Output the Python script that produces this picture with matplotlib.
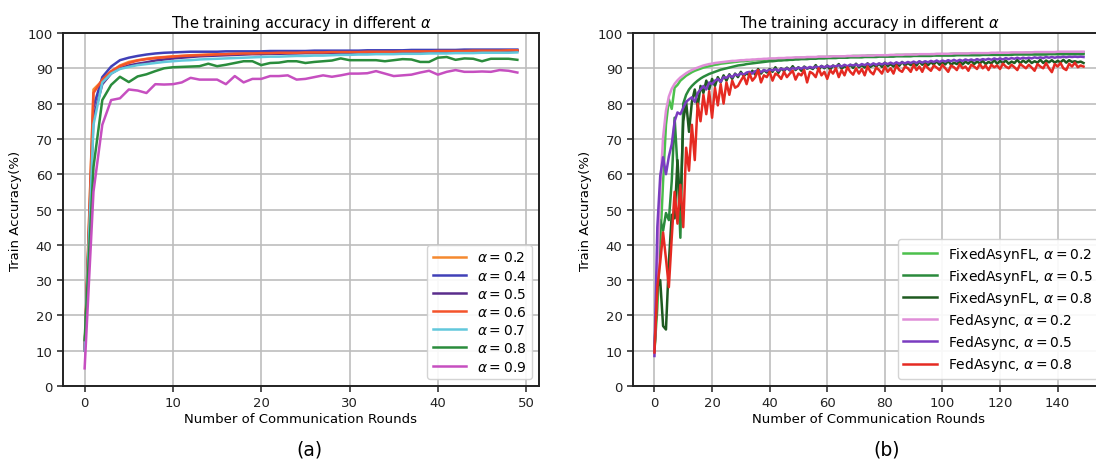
import numpy as np
import matplotlib
matplotlib.use('Agg')
import matplotlib.pyplot as plt

plt.rcParams['font.family'] = 'DejaVu Sans'
plt.rcParams['font.size'] = 9.5

# ---- panel (a): 50 rounds, one curve per alpha ----
rounds_a = np.arange(50)
alpha_labels_a = ['0.2', '0.4', '0.5', '0.6', '0.7', '0.8', '0.9']

acc_a02 = [10.0, 84.0, 86.5, 89.0, 90.8, 91.8, 92.3, 92.7, 93.0, 93.2,
           93.4, 93.5, 93.7, 93.8, 93.9, 94.0, 94.0, 94.1, 94.1, 94.2,
           94.2, 94.3, 94.3, 94.3, 94.4, 94.4, 94.4, 94.5, 94.5, 94.5,
           94.5, 94.6, 94.6, 94.6, 94.6, 94.7, 94.7, 94.7, 94.7, 94.8,
           94.8, 94.8, 94.8, 94.9, 94.9, 94.9, 94.9, 95.0, 95.0, 95.0]
acc_a04 = [10.0, 79.0, 87.5, 90.5, 92.3, 93.0, 93.5, 93.9, 94.2, 94.4,
           94.5, 94.6, 94.7, 94.7, 94.7, 94.7, 94.8, 94.8, 94.8, 94.8,
           94.8, 94.9, 94.9, 94.9, 94.9, 94.9, 95.0, 95.0, 95.0, 95.0,
           95.0, 95.0, 95.1, 95.1, 95.1, 95.1, 95.1, 95.2, 95.2, 95.2,
           95.2, 95.2, 95.2, 95.3, 95.3, 95.3, 95.3, 95.3, 95.3, 95.3]
acc_a05 = [10.0, 76.0, 85.5, 88.5, 90.0, 90.8, 91.3, 91.7, 92.2, 92.5,
           92.8, 93.0, 93.2, 93.4, 93.5, 93.6, 93.7, 93.8, 93.9, 94.0,
           94.0, 94.1, 94.1, 94.2, 94.2, 94.3, 94.3, 94.3, 94.4, 94.4,
           94.4, 94.5, 94.5, 94.5, 94.5, 94.6, 94.6, 94.6, 94.6, 94.7,
           94.7, 94.7, 94.7, 94.7, 94.8, 94.8, 94.8, 94.8, 94.8, 94.9]
acc_a06 = [10.0, 83.0, 86.8, 89.2, 90.6, 91.5, 92.2, 92.6, 92.9, 93.1,
           93.3, 93.5, 93.6, 93.7, 93.8, 93.9, 94.0, 94.1, 94.2, 94.2,
           94.3, 94.3, 94.4, 94.4, 94.4, 94.5, 94.5, 94.5, 94.6, 94.6,
           94.6, 94.6, 94.7, 94.7, 94.7, 94.7, 94.8, 94.8, 94.8, 94.8,
           94.9, 94.9, 94.9, 94.9, 95.0, 95.0, 95.0, 95.0, 95.1, 95.1]
acc_a07 = [10.0, 74.0, 86.0, 88.5, 89.8, 90.4, 90.9, 91.2, 91.5, 91.8,
           92.0, 92.2, 92.3, 92.5, 92.6, 92.7, 92.8, 92.9, 93.0, 93.1,
           93.2, 93.3, 93.3, 93.4, 93.5, 93.5, 93.6, 93.6, 93.7, 93.8,
           93.8, 93.9, 93.9, 94.0, 94.0, 94.0, 94.1, 94.1, 94.1, 94.2,
           94.2, 94.2, 94.3, 94.3, 94.3, 94.4, 94.4, 94.4, 94.4, 94.5]
acc_a08 = [13.0, 62.0, 81.0, 85.3, 87.6, 86.1, 87.7, 88.3, 89.2, 90.0,
           90.3, 90.4, 90.5, 90.6, 91.3, 90.6, 91.0, 91.5, 92.0, 92.0,
           90.9, 91.5, 91.6, 92.0, 92.0, 91.5, 91.8, 92.0, 92.2, 92.8,
           92.3, 92.3, 92.3, 92.3, 92.0, 92.3, 92.6, 92.5, 91.8, 91.8,
           93.0, 93.2, 92.4, 92.8, 92.7, 92.0, 92.7, 92.7, 92.7, 92.4]
acc_a09 = [5.0, 55.0, 74.0, 81.0, 81.5, 84.0, 83.7, 83.0, 85.5, 85.4,
           85.5, 86.0, 87.3, 86.8, 86.8, 86.8, 85.5, 87.8, 86.0, 87.0,
           87.0, 87.8, 87.8, 88.0, 86.8, 87.0, 87.5, 88.0, 87.6, 88.0,
           88.5, 88.5, 88.6, 89.2, 88.5, 87.8, 88.0, 88.2, 88.8, 89.3,
           88.2, 89.0, 89.5, 89.0, 89.0, 89.1, 89.0, 89.5, 89.3, 88.8]

# ---- panel (b): 150 rounds, FixedAsynFL vs FedAsync ----
rounds_b = np.arange(150)

fixed_02 = [10.0, 22.0, 40.0, 58.0, 74.0, 81.2, 78.5, 84.5, 85.3, 86.5,
            87.2, 87.9, 88.4, 88.9, 89.3, 89.6, 89.9, 90.2, 90.4, 90.6,
            90.8, 91.0, 91.1, 91.3, 91.4, 91.5, 91.6, 91.7, 91.8, 91.9,
            92.0, 92.0, 92.1, 92.2, 92.2, 92.3, 92.3, 92.4, 92.4, 92.5,
            92.5, 92.6, 92.6, 92.7, 92.7, 92.7, 92.8, 92.8, 92.9, 92.9,
            92.9, 93.0, 93.0, 93.0, 93.1, 93.1, 93.1, 93.2, 93.2, 93.2,
            93.2, 93.3, 93.3, 93.3, 93.3, 93.4, 93.4, 93.4, 93.4, 93.5,
            93.5, 93.5, 93.5, 93.5, 93.6, 93.6, 93.6, 93.6, 93.6, 93.7,
            93.7, 93.7, 93.7, 93.7, 93.8, 93.8, 93.8, 93.8, 93.8, 93.8,
            93.9, 93.9, 93.9, 93.9, 93.9, 93.9, 94.0, 94.0, 94.0, 94.0,
            94.0, 94.0, 94.0, 94.1, 94.1, 94.1, 94.1, 94.1, 94.1, 94.1,
            94.1, 94.2, 94.2, 94.2, 94.2, 94.2, 94.2, 94.2, 94.2, 94.3,
            94.3, 94.3, 94.3, 94.3, 94.3, 94.3, 94.3, 94.3, 94.3, 94.4,
            94.4, 94.4, 94.4, 94.4, 94.4, 94.4, 94.4, 94.4, 94.4, 94.4,
            94.4, 94.5, 94.5, 94.5, 94.5, 94.5, 94.5, 94.5, 94.5, 94.5]
fixed_05 = [10.0, 30.0, 47.0, 44.0, 49.0, 47.0, 58.0, 76.0, 62.0, 42.0,
            80.0, 82.5, 84.0, 85.0, 85.8, 86.5, 87.1, 87.6, 88.0, 88.4,
            88.7, 89.0, 89.3, 89.6, 89.8, 90.0, 90.2, 90.4, 90.6, 90.8,
            90.9, 91.0, 91.2, 91.3, 91.4, 91.5, 91.6, 91.7, 91.8, 91.9,
            92.0, 92.0, 92.1, 92.2, 92.2, 92.3, 92.3, 92.4, 92.4, 92.5,
            92.5, 92.6, 92.6, 92.6, 92.7, 92.7, 92.7, 92.8, 92.8, 92.8,
            92.9, 92.9, 92.9, 92.9, 93.0, 93.0, 93.0, 93.0, 93.1, 93.1,
            93.1, 93.1, 93.1, 93.2, 93.2, 93.2, 93.2, 93.2, 93.3, 93.3,
            93.3, 93.3, 93.3, 93.3, 93.4, 93.4, 93.4, 93.4, 93.4, 93.4,
            93.5, 93.5, 93.5, 93.5, 93.5, 93.5, 93.5, 93.6, 93.6, 93.6,
            93.6, 93.6, 93.6, 93.6, 93.6, 93.7, 93.7, 93.7, 93.7, 93.7,
            93.7, 93.7, 93.7, 93.7, 93.8, 93.8, 93.8, 93.8, 93.8, 93.8,
            93.8, 93.8, 93.8, 93.8, 93.8, 93.9, 93.9, 93.9, 93.9, 93.9,
            93.9, 93.9, 93.9, 93.9, 93.9, 93.9, 93.9, 94.0, 94.0, 94.0,
            94.0, 94.0, 94.0, 94.0, 94.0, 94.0, 94.0, 94.0, 94.0, 94.0]
fixed_08 = [10.0, 28.0, 30.0, 17.0, 16.0, 35.0, 48.5, 47.5, 64.0, 50.0,
            75.0, 80.5, 72.0, 80.5, 84.0, 79.0, 85.0, 83.0, 86.5, 84.0,
            87.0, 85.0, 87.5, 86.0, 88.0, 86.5, 88.3, 87.0, 88.5, 87.5,
            89.0, 87.8, 88.6, 88.0, 89.3, 88.2, 89.8, 88.5, 89.5, 88.8,
            89.8, 89.0, 90.3, 88.7, 90.0, 89.2, 90.2, 89.4, 90.6, 89.5,
            90.3, 89.3, 90.5, 89.9, 90.2, 89.8, 90.9, 89.5, 90.7, 90.0,
            90.8, 89.6, 90.8, 90.3, 91.2, 89.9, 90.6, 90.2, 91.0, 90.1,
            91.3, 90.3, 90.9, 90.2, 91.4, 90.4, 91.0, 90.5, 91.3, 90.4,
            91.6, 90.6, 91.2, 90.5, 91.4, 90.7, 91.8, 90.8, 91.5, 90.9,
            91.6, 90.8, 91.9, 91.0, 91.5, 90.9, 91.7, 91.1, 92.0, 91.0,
            91.8, 91.1, 92.1, 91.0, 91.6, 91.2, 92.0, 91.1, 91.9, 91.3,
            92.2, 91.2, 91.9, 91.4, 92.1, 91.2, 91.8, 91.4, 92.3, 91.3,
            92.1, 91.5, 92.2, 91.3, 91.9, 91.5, 92.4, 91.4, 92.2, 91.6,
            92.3, 91.5, 92.0, 91.6, 92.4, 91.5, 92.2, 91.7, 92.3, 91.6,
            92.1, 91.7, 92.4, 91.6, 92.3, 91.8, 92.0, 91.7, 91.9, 91.5]
fedasync_02 = [10.0, 32.0, 56.0, 70.5, 78.0, 82.0, 84.2, 85.6, 86.6, 87.4,
               88.0, 88.6, 89.1, 89.5, 89.9, 90.2, 90.5, 90.8, 91.0, 91.2,
               91.3, 91.5, 91.6, 91.7, 91.8, 91.9, 92.0, 92.1, 92.1, 92.2,
               92.3, 92.3, 92.4, 92.4, 92.5, 92.5, 92.6, 92.6, 92.7, 92.7,
               92.8, 92.8, 92.8, 92.9, 92.9, 92.9, 93.0, 93.0, 93.0, 93.1,
               93.1, 93.1, 93.1, 93.2, 93.2, 93.2, 93.2, 93.3, 93.3, 93.3,
               93.3, 93.3, 93.4, 93.4, 93.4, 93.4, 93.4, 93.5, 93.5, 93.5,
               93.5, 93.5, 93.6, 93.6, 93.6, 93.6, 93.6, 93.7, 93.7, 93.7,
               93.7, 93.7, 93.8, 93.8, 93.8, 93.8, 93.8, 93.9, 93.9, 93.9,
               93.9, 93.9, 94.0, 94.0, 94.0, 94.0, 94.0, 94.0, 94.1, 94.1,
               94.1, 94.1, 94.1, 94.1, 94.2, 94.2, 94.2, 94.2, 94.2, 94.2,
               94.3, 94.3, 94.3, 94.3, 94.3, 94.3, 94.3, 94.4, 94.4, 94.4,
               94.4, 94.4, 94.4, 94.4, 94.5, 94.5, 94.5, 94.5, 94.5, 94.5,
               94.5, 94.5, 94.6, 94.6, 94.6, 94.6, 94.6, 94.6, 94.6, 94.6,
               94.7, 94.7, 94.7, 94.7, 94.7, 94.7, 94.7, 94.7, 94.7, 94.7]
fedasync_05 = [8.5, 45.0, 59.5, 64.8, 60.0, 65.0, 68.5, 75.0, 77.5, 77.0,
               78.8, 80.5, 81.2, 81.8, 80.5, 83.0, 84.0, 85.0, 84.0, 86.0,
               85.5, 86.5, 87.0, 86.2, 87.5, 87.3, 88.0, 87.5, 88.3, 88.0,
               88.6, 88.2, 88.8, 89.0, 88.5, 89.2, 89.3, 88.9, 89.5, 89.2,
               89.6, 89.4, 89.8, 89.3, 89.9, 89.6, 90.0, 89.5, 90.1, 89.8,
               90.2, 89.9, 90.3, 90.0, 90.4, 90.1, 90.5, 90.2, 90.6, 90.3,
               90.7, 90.4, 90.7, 90.5, 90.9, 90.5, 91.0, 90.6, 91.0, 90.8,
               91.1, 90.7, 91.2, 90.9, 91.3, 90.9, 91.4, 91.0, 91.4, 91.1,
               91.5, 91.2, 91.6, 91.2, 91.7, 91.3, 91.7, 91.4, 91.8, 91.5,
               91.9, 91.5, 92.0, 91.6, 92.0, 91.7, 92.1, 91.8, 92.2, 91.8,
               92.2, 91.9, 92.3, 92.0, 92.4, 92.0, 92.4, 92.1, 92.5, 92.2,
               92.5, 92.2, 92.6, 92.3, 92.6, 92.4, 92.7, 92.4, 92.8, 92.5,
               92.8, 92.5, 92.9, 92.6, 92.9, 92.7, 93.0, 92.7, 93.0, 92.8,
               93.0, 92.8, 93.1, 92.9, 93.1, 92.9, 93.2, 93.0, 93.2, 93.0,
               93.2, 93.1, 93.3, 93.1, 93.3, 93.2, 93.3, 93.2, 93.3, 93.2]
fedasync_08 = [9.5, 28.0, 35.0, 43.5, 36.0, 28.0, 42.0, 55.0, 46.0, 57.0,
               45.0, 67.5, 61.0, 74.0, 64.0, 80.0, 75.0, 82.5, 77.0, 83.5,
               76.0, 84.5, 79.5, 85.5, 80.0, 86.0, 82.5, 86.5, 84.5, 85.0,
               86.5, 87.8, 85.5, 88.5, 86.5, 87.5, 89.5, 86.0, 88.0, 87.5,
               89.0, 86.5, 88.5, 88.0, 87.0, 89.0, 87.5, 88.5, 89.3, 86.8,
               88.5, 88.0, 89.5, 86.0, 89.0, 88.5, 87.5, 90.0, 88.0, 89.0,
               87.0, 89.5, 88.5, 90.0, 87.5, 89.5, 88.0, 90.3, 89.0, 88.2,
               90.0, 88.5, 89.8, 88.0, 90.5, 89.0, 88.3, 90.2, 89.5, 88.5,
               90.5, 89.0, 90.0, 88.5, 90.8, 89.5, 89.0, 90.5, 90.0, 89.0,
               91.0, 89.5, 90.5, 89.0, 91.0, 90.0, 89.3, 90.8, 90.2, 89.5,
               91.0, 90.0, 89.0, 90.8, 90.3, 89.5, 91.2, 90.0, 90.5, 89.3,
               91.0, 90.5, 89.8, 91.2, 90.0, 90.8, 89.5, 91.0, 90.3, 90.8,
               89.8, 91.3, 90.5, 90.0, 91.0, 90.3, 89.5, 91.2, 90.6, 90.0,
               91.0, 90.2, 89.3, 91.2, 90.5, 90.0, 91.5, 90.0, 88.9, 91.2,
               90.5, 91.5, 90.0, 89.5, 91.3, 90.5, 91.6, 90.3, 90.8, 90.5]

series_a = [acc_a02, acc_a04, acc_a05, acc_a06, acc_a07, acc_a08, acc_a09]
colors_a = ['#f5892f', '#4040b8', '#5a2d8c', '#f4532a', '#62c8dc', '#2a8c3c', '#c64fc0']

series_b = [fixed_02, fixed_05, fixed_08, fedasync_02, fedasync_05, fedasync_08]
labels_b = [r'FixedAsynFL, $\alpha=0.2$', r'FixedAsynFL, $\alpha=0.5$',
            r'FixedAsynFL, $\alpha=0.8$', r'FedAsync, $\alpha=0.2$',
            r'FedAsync, $\alpha=0.5$', r'FedAsync, $\alpha=0.8$']
colors_b = ['#4cc04c', '#2a8a3c', '#1e5a20', '#e08ed8', '#7a3cc0', '#e52a22']

fig = plt.figure(figsize=(10.96, 4.6), dpi=100)
ax1 = fig.add_axes([63 / 1096, 73 / 460, 476 / 1096, 353 / 460])
ax2 = fig.add_axes([633 / 1096, 73 / 460, 472 / 1096, 353 / 460])


def style_axes(ax):
    ax.set_ylim(0, 100)
    ax.set_yticks(np.arange(0, 101, 10))
    ax.grid(True, color='#bdbdbd', linewidth=1.2)
    ax.set_axisbelow(True)
    for s in ax.spines.values():
        s.set_linewidth(1.4)
        s.set_color('#222222')
    ax.tick_params(labelsize=9.5, colors='#222222', width=1.1, length=4)
    ax.set_title(r'The training accuracy in different $\alpha$', fontsize=10.5, pad=4)
    ax.set_xlabel('Number of Communication Rounds', fontsize=9.5, labelpad=2)
    ax.set_ylabel('Train Accuracy(%)', fontsize=9.5, labelpad=4)


for ys, lab, c in zip(series_a, alpha_labels_a, colors_a):
    ax1.plot(rounds_a, ys, color=c, linewidth=1.8, label=r'$\alpha=%s$' % lab)
style_axes(ax1)
ax1.set_xticks(np.arange(0, 51, 10))
ax1.legend(loc='lower right', fontsize=10, handlelength=2.4, labelspacing=0.3,
           framealpha=0.9, edgecolor='#d0d0d0', fancybox=True, borderpad=0.4)

for ys, lab, c in zip(series_b, labels_b, colors_b):
    ax2.plot(rounds_b, ys, color=c, linewidth=1.8, label=lab)
style_axes(ax2)
ax2.set_xticks(np.arange(0, 141, 20))
ax2.legend(loc='lower right', fontsize=10, handlelength=2.4, labelspacing=0.3,
           framealpha=0.9, edgecolor='#d0d0d0', fancybox=True, borderpad=0.4)

fig.text(309 / 1096, 1 - 450 / 460, '(a)', fontsize=13.5, ha='center', va='center')
fig.text(887 / 1096, 1 - 450 / 460, '(b)', fontsize=13.5, ha='center', va='center')

fig.savefig('out.png', dpi=100)
